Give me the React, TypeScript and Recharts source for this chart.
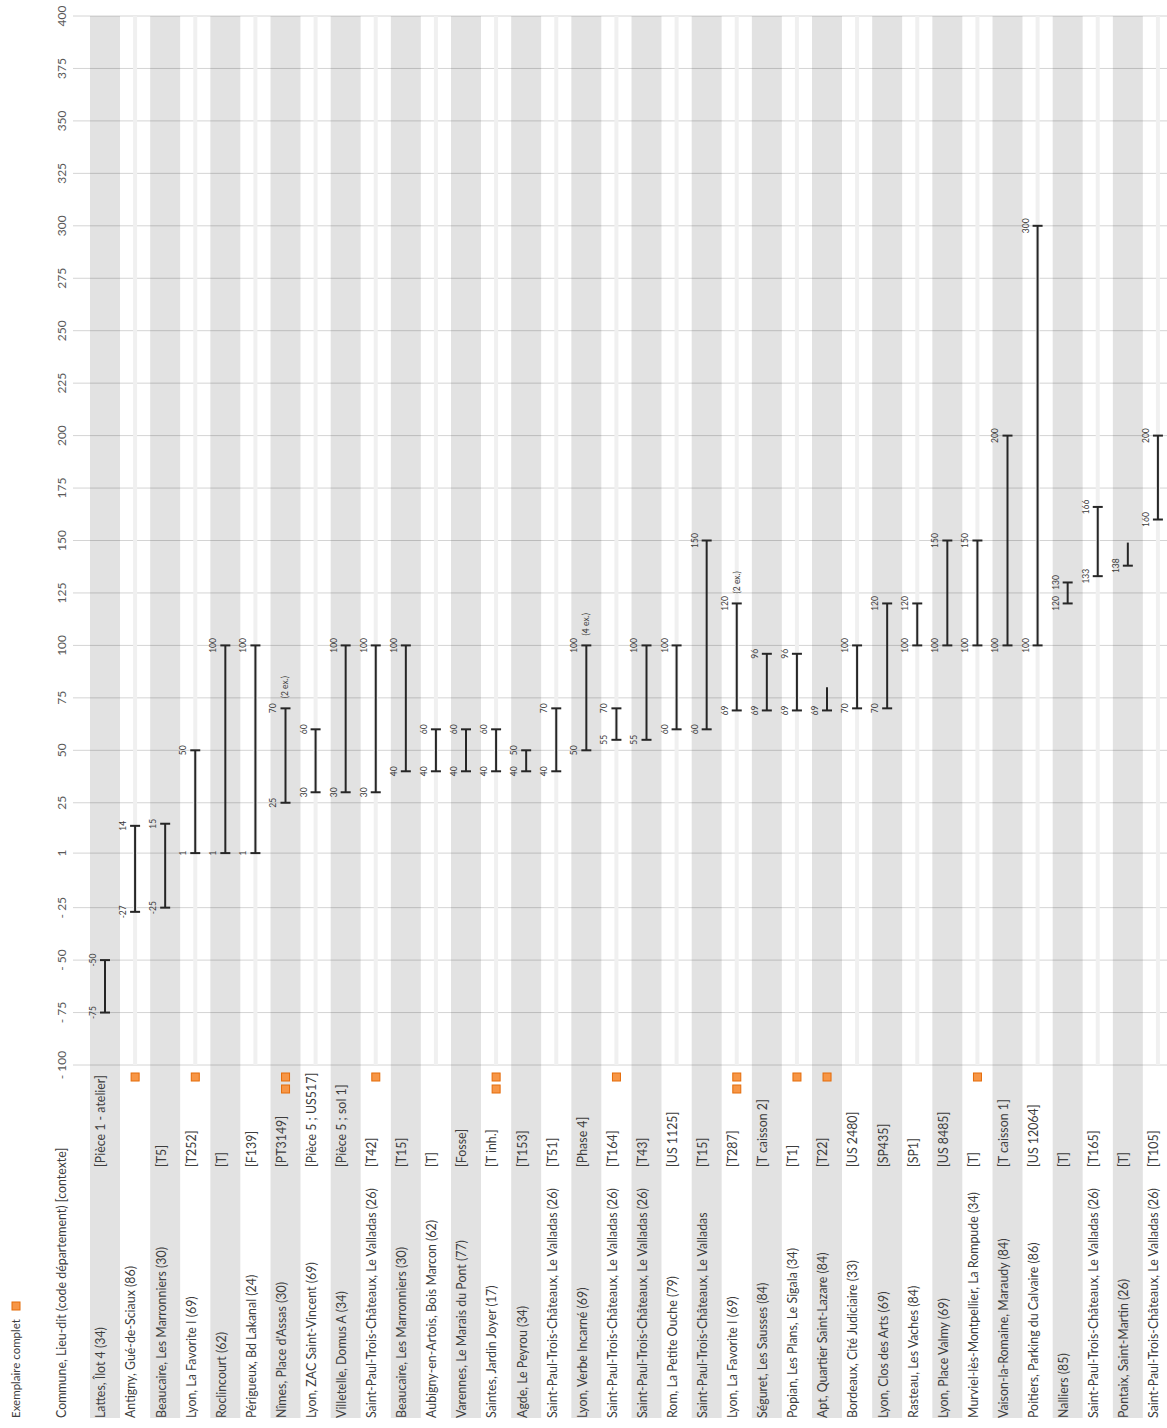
import React from 'react';
import { ComposedChart, Bar, XAxis, YAxis, CartesianGrid } from 'recharts';

// ---- Data ----
const communes = [
  'Lattes, Îlot 4 (34)',
  'Antigny, Gué-de-Sciaux (86)',
  'Beaucaire, Les Marronniers (30)',
  'Lyon, La Favorite I (69)',
  'Roclincourt (62)',
  'Périgueux, Bd Lakanal (24)',
  "Nîmes, Place d'Assas (30)",
  'Lyon, ZAC Saint-Vincent (69)',
  'Villetelle, Domus A (34)',
  'Saint-Paul-Trois-Châteaux, Le Valladas (26)',
  'Beaucaire, Les Marronniers (30)',
  'Aubigny-en-Artois, Bois Marcon (62)',
  'Varennes, Le Marais du Pont (77)',
  'Saintes, Jardin Joyer (17)',
  'Agde, Le Peyrou (34)',
  'Saint-Paul-Trois-Châteaux, Le Valladas (26)',
  'Lyon, Verbe Incarné (69)',
  'Saint-Paul-Trois-Châteaux, Le Valladas (26)',
  'Saint-Paul-Trois-Châteaux, Le Valladas (26)',
  'Rom, La Petite Ouche (79)',
  'Saint-Paul-Trois-Châteaux, Le Valladas',
  'Lyon, La Favorite I (69)',
  'Séguret, Les Sausses (84)',
  'Popian, Les Plans, Le Sigala (34)',
  'Apt, Quartier Saint-Lazare (84)',
  'Bordeaux, Cité Judiciaire (33)',
  'Lyon, Clos des Arts (69)',
  'Rasteau, Les Vaches (84)',
  'Lyon, Place Valmy (69)',
  'Murviel-lès-Montpellier, La Rompude (34)',
  'Vaison-la-Romaine, Maraudy (84)',
  'Poitiers, Parking du Calvaire (86)',
  'Nalliers (85)',
  'Saint-Paul-Trois-Châteaux, Le Valladas (26)',
  'Pontaix, Saint-Martin (26)',
  'Saint-Paul-Trois-Châteaux, Le Valladas (26)',
];

const contexts = [
  '[Pièce 1 - atelier]', '', '[T5]', '[T252]', '[T]', '[F139]', '[PT3149]',
  '[Pièce 5 ; US517]', '[Pièce 5 ; sol 1]', '[T42]', '[T15]', '[T]', '[Fosse]',
  '[T inh.]', '[T153]', '[T51]', '[Phase 4]', '[T164]', '[T43]', '[US 1125]',
  '[T15]', '[T287]', '[T caisson 2]', '[T1]', '[T22]', '[US 2480]', '[SP435]',
  '[SP1]', '[US 8485]', '[T]', '[T caisson 1]', '[US 12064]', '[T]', '[T165]',
  '[T]', '[T105]',
];

const minValues = [
  -75, -27, -25, 1, 1, 1, 25, 30, 30, 30, 40, 40, 40, 40, 40, 40, 50, 55, 55, 60,
  60, 69, 69, 69, 69, 70, 70, 100, 100, 100, 100, 100, 120, 133, 138, 160,
];

const maxValues = [
  -50, 14, 15, 50, 100, 100, 70, 60, 100, 100, 100, 60, 60, 60, 50, 70, 100, 70, 100, 100,
  150, 120, 96, 96, 80, 100, 120, 120, 150, 150, 200, 300, 130, 166, 149, 200,
];

// true when the upper end is open (no cap, no value shown)
const openTop = [
  false, false, false, false, false, false, false, false, false, false, false, false,
  false, false, false, false, false, false, false, false, false, false, false, false,
  true, false, false, false, false, false, false, false, false, false, true, false,
];

const notes = [
  '', '', '', '', '', '', '(2 ex.)', '', '', '', '', '', '', '', '', '', '(4 ex.)', '',
  '', '', '', '(2 ex.)', '', '', '', '', '', '', '', '', '', '', '', '', '', '',
];

const completeCounts = [
  0, 1, 0, 1, 0, 0, 2, 0, 0, 1, 0, 0, 0, 2, 0, 0, 0, 1, 0, 0,
  0, 2, 0, 1, 1, 0, 0, 0, 0, 1, 0, 0, 0, 0, 0, 0,
];

const yTicks = [-100, -75, -50, -25, 1, 25, 50, 75, 100, 125, 150, 175, 200, 225, 250, 275, 300, 325, 350, 375, 400];

const data = communes.map((c, i) => ({
  idx: i,
  range: [minValues[i], maxValues[i]],
}));

// ---- Styles ----
const FONT = 'Lato, "Open Sans", "Liberation Sans", Arial, sans-serif';
const TEXT = '#3d3d3d';
const BAR = '#262626';
const ORANGE = '#f79646';
const ORANGE_STROKE = '#e46c0a';
const LABEL_AREA = 353; // how far the column bands continue below the plot
const LABEL_SIZE = 12.4;

const rot = (x: number, y: number) => `rotate(-90 ${x} ${y})`;

const ErrorShape = (props: any) => {
  const { x, y, width, height, index } = props;
  if (x == null || y == null) return null;
  const cx = x + width / 2;
  const top = Math.min(y, y + height);
  const bottom = Math.max(y, y + height);
  const cap = 5;
  const lx = cx - 12;
  const open = openTop[index];
  return (
    <g>
      <line x1={cx} x2={cx} y1={top} y2={bottom} stroke={BAR} strokeWidth={2} />
      <line x1={cx - cap} x2={cx + cap} y1={bottom} y2={bottom} stroke={BAR} strokeWidth={2} />
      {!open && <line x1={cx - cap} x2={cx + cap} y1={top} y2={top} stroke={BAR} strokeWidth={2} />}
      <text x={lx} y={bottom} transform={rot(lx, bottom)} textAnchor="middle" dy="0.35em" fontSize={8.5} fill={TEXT} fontFamily={FONT}>
        {minValues[index]}
      </text>
      {!open && (
        <text x={lx} y={top} transform={rot(lx, top)} textAnchor="middle" dy="0.35em" fontSize={8.5} fill={TEXT} fontFamily={FONT}>
          {maxValues[index]}
        </text>
      )}
      {notes[index] && (
        <text x={cx} y={top - 10} transform={rot(cx, top - 10)} textAnchor="start" dy="0.35em" fontSize={8.5} fill={TEXT} fontFamily={FONT}>
          {notes[index]}
        </text>
      )}
    </g>
  );
};

const BandShape = (props: any) => {
  const { x, y, width, height, index } = props;
  if (x == null) return null;
  const even = index % 2 === 0;
  return (
    <g>
      {even ? (
        <rect x={x} y={y} width={width} height={height + LABEL_AREA} fill="rgba(0,0,0,0.115)" />
      ) : (
        <line x1={x + width / 2} x2={x + width / 2} y1={y} y2={y + height} stroke="#f0f0f0" strokeWidth={4} />
      )}
    </g>
  );
};

const CategoryTick = (props: any) => {
  const { x, y, payload } = props;
  const i = Number(payload.value);
  const tx = x - 4;
  const ctxY = y + 102;
  const comY = y + 353;
  const squares = [];
  for (let k = 0; k < completeCounts[i]; k++) {
    squares.push(
      <rect key={k} x={x - 4} y={y + 8 + k * 12} width={8} height={8} fill={ORANGE} stroke={ORANGE_STROKE} strokeWidth={1} />
    );
  }
  return (
    <g>
      {squares}
      {contexts[i] && (
        <text x={tx} y={ctxY} transform={rot(tx, ctxY)} textAnchor="start" dy="0.35em" fontSize={LABEL_SIZE} fill={TEXT} fontFamily={FONT}>
          {contexts[i]}
        </text>
      )}
      <text x={tx} y={comY} transform={rot(tx, comY)} textAnchor="start" dy="0.35em" fontSize={LABEL_SIZE} fill={TEXT} fontFamily={FONT}>
        {communes[i]}
      </text>
    </g>
  );
};

const fmtTick = (v: number) => (v < 0 ? `- ${Math.abs(v)}` : String(v));

const ValueTick = (props: any) => {
  const { x, y, payload } = props;
  const tx = x - 11;
  return (
    <text x={tx} y={y} transform={rot(tx, y)} textAnchor="middle" dy="0.35em" fontSize={12} fill="#595959" fontFamily={FONT}>
      {fmtTick(payload.value)}
    </text>
  );
};

export default function App() {
  return (
    <div style={{ position: 'absolute', left: 0, top: 0, width: 1167, height: 1428, overflow: 'hidden', background: '#fff' }}>
      <ComposedChart
        width={1180}
        height={1428}
        data={data}
        margin={{ top: 16, right: 7, bottom: 0, left: 13 }}
        barCategoryGap={0}
        barGap={0}
      >
        <CartesianGrid horizontal vertical={false} stroke="#d4d4d4" />
        <YAxis
          type="number"
          domain={[-100, 400]}
          ticks={yTicks}
          interval={0}
          width={60}
          tickLine={false}
          axisLine={false}
          tickSize={0}
          tickMargin={0}
          tick={<ValueTick />}
        />
        <Bar dataKey="range" isAnimationActive={false} shape={<ErrorShape />} background={<BandShape />} />
        <XAxis
          dataKey="idx"
          type="category"
          interval={0}
          height={363}
          padding={{ left: 17, right: 0 }}
          tickLine={false}
          axisLine={false}
          tickSize={0}
          tickMargin={0}
          tick={<CategoryTick />}
        />
      </ComposedChart>
      <svg width={1167} height={1428} style={{ position: 'absolute', left: 0, top: 0, pointerEvents: 'none' }}>
        <text x={16} y={1418} transform={rot(16, 1418)} textAnchor="start" dy="0.35em" fontSize={11.5} fill={TEXT} fontFamily={FONT}>
          Exemplaire complet
        </text>
        <rect x={12} y={1302} width={8} height={8} fill={ORANGE} stroke={ORANGE_STROKE} strokeWidth={1} />
        <text x={62} y={1418} transform={rot(62, 1418)} textAnchor="start" dy="0.35em" fontSize={LABEL_SIZE} fill={TEXT} fontFamily={FONT}>
          Commune, Lieu-dit (code département) [contexte]
        </text>
      </svg>
    </div>
  );
}
